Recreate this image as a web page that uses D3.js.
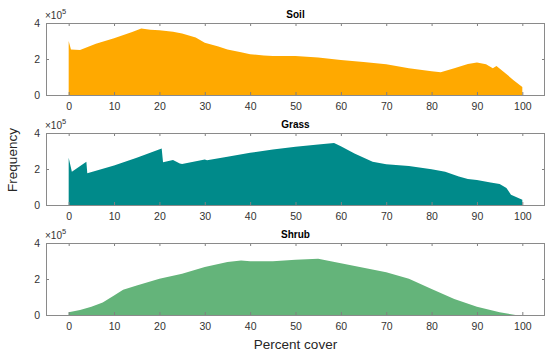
<!DOCTYPE html>
<meta charset="utf-8">
<style>
body { margin: 0; background: #fff; }
text { font-family: "Liberation Sans", Arial, sans-serif; fill: #262626; }
.axis path.domain { display: none; }
.axis line { stroke: #808080; }
.axis text { font-size: 10.5px; fill: #333; }
.box { fill: none; stroke: #8a8a8a; stroke-width: 1; }
.title { font-size: 10px; font-weight: bold; fill: #000; }
</style>
<body>
<div id="chart"></div>
<script src="https://d3js.org/d3.v7.min.js"></script>
<script>
// panel names and colours
var panels = ["Soil", "Grass", "Shrub"];
var colors = ["#FFA900", "#008A8A", "#64B47A"];

// x values (percent cover) and frequencies (x 10^5)
var soilX = [0, 0, 0.5, 2.5, 6, 10, 14, 16, 18, 20, 23, 25, 28, 30, 33, 35, 38, 40, 43, 45, 50, 55, 60, 65, 70, 75, 80, 82, 85, 88, 90, 92, 93.5, 94.3, 96, 98, 100, 100];
var soilY = [0, 3.0, 2.53, 2.5, 2.85, 3.15, 3.5, 3.69, 3.62, 3.6, 3.52, 3.42, 3.2, 2.9, 2.7, 2.53, 2.38, 2.27, 2.2, 2.17, 2.17, 2.09, 1.94, 1.83, 1.71, 1.49, 1.32, 1.27, 1.49, 1.72, 1.8, 1.71, 1.49, 1.61, 1.27, 0.84, 0.44, 0];

var grassX = [0, 0, 0.7, 3.9, 4.1, 10, 15, 20.5, 20.8, 23, 24.5, 25, 30, 30.5, 35, 40, 45, 50, 55, 58.5, 60, 63, 67, 70, 75, 80, 83, 86, 88, 90, 93, 95, 96.5, 97.5, 100, 100];
var grassY = [0, 2.62, 1.85, 2.4, 1.76, 2.2, 2.62, 3.14, 2.37, 2.5, 2.31, 2.28, 2.53, 2.48, 2.68, 2.9, 3.08, 3.23, 3.36, 3.45, 3.27, 2.86, 2.4, 2.26, 2.17, 1.98, 1.85, 1.58, 1.45, 1.39, 1.25, 1.17, 0.94, 0.57, 0.29, 0];

var shrubX = [0, 0, 2.5, 5, 7.5, 10, 12, 15, 20, 25, 30, 35, 38, 40, 45, 50, 55, 60, 65, 70, 75, 80, 85, 90, 95, 98.5];
var shrubY = [0, 0.15, 0.28, 0.46, 0.7, 1.08, 1.4, 1.64, 2.01, 2.29, 2.66, 2.94, 3.03, 2.98, 2.98, 3.07, 3.13, 2.88, 2.63, 2.38, 2.01, 1.45, 0.89, 0.46, 0.15, 0];

var xTicks = [0, 10, 20, 30, 40, 50, 60, 70, 80, 90, 100];
var yTicks = [0, 2, 4];

var series = [[soilX, soilY], [grassX, grassY], [shrubX, shrubY]];

var width = 550, height = 357;
var left = 46, right = 545, panelH = 72;
var tops = [23, 133, 243];

var svg = d3.select("#chart").append("svg")
    .attr("width", width)
    .attr("height", height);

var x = d3.scaleLinear().domain([-5, 105]).range([left, right]);

panels.forEach(function(name, i) {
  var top = tops[i];
  var y = d3.scaleLinear().domain([0, 4]).range([top + panelH, top]);
  var data = series[i][0].map(function(v, j) { return {x: v, y: series[i][1][j]}; });

  var area = d3.area()
      .x(function(d) { return x(d.x); })
      .y0(y(0))
      .y1(function(d) { return y(d.y); });

  svg.append("path")
      .datum(data)
      .attr("fill", colors[i])
      .attr("d", area);

  // axes, ticks inward like matlab
  svg.append("g").attr("class", "axis")
      .attr("transform", "translate(0," + (top + panelH) + ")")
      .call(d3.axisBottom(x).tickValues(xTicks).tickSizeInner(-3).tickSizeOuter(0).tickPadding(8).tickFormat(d3.format("d")));
  svg.append("g").attr("class", "axis")
      .attr("transform", "translate(0," + top + ")")
      .call(d3.axisTop(x).tickValues(xTicks).tickSizeInner(-3).tickSizeOuter(0).tickFormat(""));
  svg.append("g").attr("class", "axis")
      .attr("transform", "translate(" + left + ",0)")
      .call(d3.axisLeft(y).tickValues(yTicks).tickSizeInner(-3).tickSizeOuter(0).tickPadding(6).tickFormat(d3.format("d")));
  svg.append("g").attr("class", "axis")
      .attr("transform", "translate(" + right + ",0)")
      .call(d3.axisRight(y).tickValues(yTicks).tickSizeInner(-3).tickSizeOuter(0).tickFormat(""));

  svg.append("rect").attr("class", "box")
      .attr("x", left + 0.5).attr("y", top + 0.5)
      .attr("width", right - left - 1).attr("height", panelH);

  // exponent label
  var ex = svg.append("text")
      .attr("x", left - 1).attr("y", top - 4)
      .style("font-size", "10px").style("fill", "#333");
  ex.append("tspan").text("\u00d710");
  ex.append("tspan").attr("dy", -5).style("font-size", "7.5px").text("5");

  svg.append("text").attr("class", "title")
      .attr("x", (left + right) / 2).attr("y", top - 5)
      .attr("text-anchor", "middle")
      .text(name);
});

svg.append("text")
    .attr("transform", "translate(17," + 160 + ") rotate(-90)")
    .attr("text-anchor", "middle")
    .style("font-size", "13.5px")
    .text("Frequency");

svg.append("text")
    .attr("x", (left + right) / 2).attr("y", 349)
    .attr("text-anchor", "middle")
    .style("font-size", "13.5px")
    .text("Percent cover");
</script>
</body>
